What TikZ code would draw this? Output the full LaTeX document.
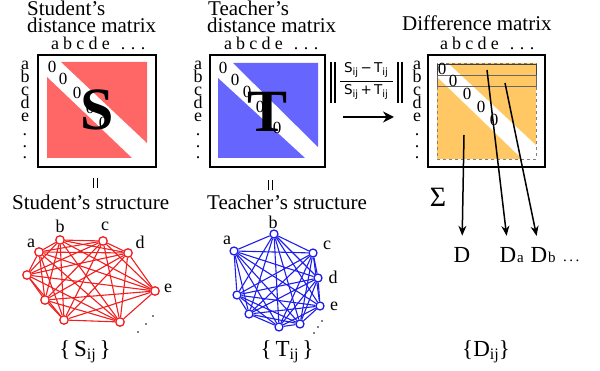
\documentclass[tikz,border=0pt]{standalone}
\usepackage{fontspec}
\setmainfont{Liberation Serif}
\newfontfamily\fsans{DejaVu Sans}
\usetikzlibrary{arrows.meta,backgrounds}
\definecolor{mred}{RGB}{255,102,102}
\definecolor{mblue}{RGB}{102,102,255}
\definecolor{morange}{RGB}{255,200,100}
\definecolor{gred}{RGB}{240,30,30}
\definecolor{gblue}{RGB}{30,30,235}
\newcommand\sbs[1]{\raisebox{-0.25ex}{\fontsize{16}{16}\selectfont #1}}
\newcommand\fsb[1]{\raisebox{-0.3ex}{\fontsize{10}{10}\selectfont #1}}
\newcommand\mlabels[3]{%
 \foreach \l [count=\n from 0] in {a,b,c,d,e}{\node[idx] (#1c\l) at ({#2+6+12.7*\n},50) {\l};}
 \foreach \n in {0,1,2}{\node[idx] (#1cd\n) at ({#2+74+10*\n},50) {.};}
 \foreach \l/\yy in {a/70,b/83,c/96,d/109,e/122}{\node[idx] (#1r\l) at (#3,\yy) {\l};}
 \foreach \yy [count=\n] in {136,148,159}{\node[idx] (#1rd\n) at (#3,\yy) {.};}
}
\begin{document}
\begin{tikzpicture}[x=1pt,y=-1pt,
 ttl/.style={font=\fontsize{21}{21}\selectfont,inner sep=0,anchor=base west},
 idx/.style={font=\fontsize{18}{18}\selectfont,inner sep=0,anchor=base},
 zro/.style={font=\fontsize{17}{17}\selectfont,inner sep=0},
 big/.style={font=\fontsize{60}{60}\selectfont\bfseries,inner sep=0},
 mbox/.style={draw=black,line width=1.8pt},
 gl/.style={font=\fontsize{18}{18}\selectfont,inner sep=0},
 sv/.style={circle,draw=gred,fill=white,line width=1.3pt,minimum size=8.5pt,inner sep=0},
 tv/.style={circle,draw=gblue,fill=white,line width=1.3pt,minimum size=8pt,inner sep=0},
 darr/.style={line width=1.5pt,-{Stealth[length=10pt,width=8pt]}},
 bigarr/.style={line width=2.6pt,-{Stealth[length=11pt,width=11pt]}},
 dl/.style={font=\fontsize{23}{23}\selectfont,inner sep=0,anchor=base},
 frm/.style={font=\fsans\fontsize{13.5}{13.5}\selectfont,inner sep=0},
 eqb/.style={line width=0.8pt},
 fbar/.style={line width=1.4pt}]
\useasboundingbox (0,0) rectangle (600,371);

% titles
\node[ttl] (st1) at (27,16) {Student’s};
\node[ttl] (st2) at (27,33) {distance matrix};
\node[ttl] (tt1) at (208,16) {Teacher’s};
\node[ttl] (tt2) at (207,33) {distance matrix};
\node[ttl] (dt) at (402,31) {Difference matrix};

% labels
\mlabels{s}{49}{25}
\mlabels{t}{222}{198}
\mlabels{d}{438}{417}

% student matrix
\draw[mbox] (38,55) rectangle (156,167);
\fill[mred] (61,62) -- (147,62) -- (147,143) -- cycle;
\fill[mred] (47,77) -- (47,158) -- (132,158) -- cycle;
\foreach \x/\y [count=\n] in {52/67,63/79,77/93,90/108,103/123}{\node[zro] (sz\n) at (\x,\y) {0};}
\node[big] (S) at (97,110) {S};

% teacher matrix
\draw[mbox] (210,55) rectangle (325,167);
\fill[mblue] (233,63) -- (318,63) -- (318,147) -- cycle;
\fill[mblue] (218,78) -- (218,158) -- (305,158) -- cycle;
\foreach \x/\y [count=\n] in {223/68,235/80,247/92,260/107,277/128}{\node[zro] (tz\n) at (\x,\y) {0};}
\node[big] (T) at (268,112) {T};

% difference matrix
\draw[mbox] (428,55) rectangle (545,167);
\fill[morange] (448,63) -- (536,63) -- (536,145) -- cycle;
\fill[morange] (437,77) -- (437,159) -- (522,159) -- cycle;
\draw[gray,dashed,line width=0.6pt] (437,63) rectangle (536,159);
\draw[black!75,line width=0.7pt] (437,64) rectangle (536,75);
\draw[black!60,line width=0.7pt] (437,75) rectangle (536,86);
\foreach \x/\y [count=\n] in {442/69,453/81,467/94,481/107,494/120}{\node[zro] (dz\n) at (\x,\y) {0};}

% parallel signs
\draw[eqb] (93,178) -- (93,188);
\draw[eqb] (97,178) -- (97,188);
\draw[eqb] (268,180) -- (268,190);
\draw[eqb] (272,180) -- (272,190);

% formula
\draw[fbar] (331,62) -- (331,103);
\draw[fbar] (335,62) -- (335,103);
\draw[fbar] (398,62) -- (398,103);
\draw[fbar] (402,62) -- (402,103);
\node[frm] (num) at (366,70) {S\fsb{ij}\,−\,T\fsb{ij}};
\node[frm] (den) at (366,92) {S\fsb{ij}\,+\,T\fsb{ij}};
\draw[line width=0.8pt] (340,81) -- (393,81);
\coordinate (ma1) at (343,117);
\coordinate (ma2) at (394,117);
\draw[bigarr] (ma1) -- (ma2);

% structure titles
\node[ttl] (ss) at (12,210) {Student’s structure};
\node[ttl] (ts) at (207,210) {Teacher’s structure};

% student graph
\foreach \x/\y [count=\n] in {39/252,60/240,103/241,128/253,155/291,120/322,64/320,45/300,27/275}{\node[sv] (s\n) at (\x,\y) {};}
\node[gl] (sla) at (31,243) {a};
\node[gl] (slb) at (60,226) {b};
\node[gl] (slc) at (105,226) {c};
\node[gl] (sld) at (140,242) {d};
\node[gl] (sle) at (168,288) {e};
\foreach \x/\y in {138/332,146/324,153/316}{\fill (\x,\y) circle (0.9);}

% teacher graph
\foreach \x/\y [count=\n] in {234/251,274/234,313/253,318/278,320/306,300/324,279/327,249/314,237/295}{\node[tv] (t\n) at (\x,\y) {};}
\node[gl] (tla) at (227,240) {a};
\node[gl] (tlb) at (273,222) {b};
\node[gl] (tlc) at (327,245) {c};
\node[gl] (tld) at (333,277) {d};
\node[gl] (tle) at (334,306) {e};
\foreach \x/\y in {314/333,318/327,322/321}{\fill (\x,\y) circle (0.9);}

\begin{pgfonlayer}{background}
\foreach \i in {1,...,8}{\pgfmathtruncatemacro\k{\i+1}\foreach \j in {\k,...,9}{\draw[gred,line width=1.1pt] (s\i) -- (s\j);}}
\foreach \i in {1,...,8}{\pgfmathtruncatemacro\k{\i+1}\foreach \j in {\k,...,9}{\draw[gblue,line width=1.1pt] (t\i) -- (t\j);}}
\end{pgfonlayer}

% sums
\node[font=\fontsize{28}{28}\selectfont,inner sep=0] (sig) at (438,197) {Σ};
\node[dl] (D) at (462,263) {D};
\node[dl] (Da) at (508,263) {D};
\node[dl,anchor=base west] (Das) at ([xshift=0.3pt]Da.base east) {\fontsize{15}{15}\selectfont a};
\node[dl] (Db) at (539,263) {D};
\node[dl,anchor=base west] (Dbs) at ([xshift=0.3pt]Db.base east) {\fontsize{15}{15}\selectfont b};
\node[dl,anchor=base west] (Ddots) at (563,262) {\fontsize{15}{15}\selectfont .\,.\,.};
\coordinate (p1) at (464,135);
\coordinate (p2) at (487,70);
\coordinate (p3) at (505,83);
\draw[darr,shorten >=12pt] (p1) -- (D.north);
\draw[darr,shorten >=12pt] (p2) -- (Da.north);
\draw[darr,shorten >=12pt] (p3) -- (Db.north);

% sets
\node[dl] (Sset) at (85,357) {\{\,S\sbs{ij}\,\}};
\node[dl] (Tset) at (287,357) {\{\,T\sbs{ij}\,\}};
\node[dl] (Dset) at (486,357) {\{D\sbs{ij}\}};
\end{tikzpicture}
\end{document}
